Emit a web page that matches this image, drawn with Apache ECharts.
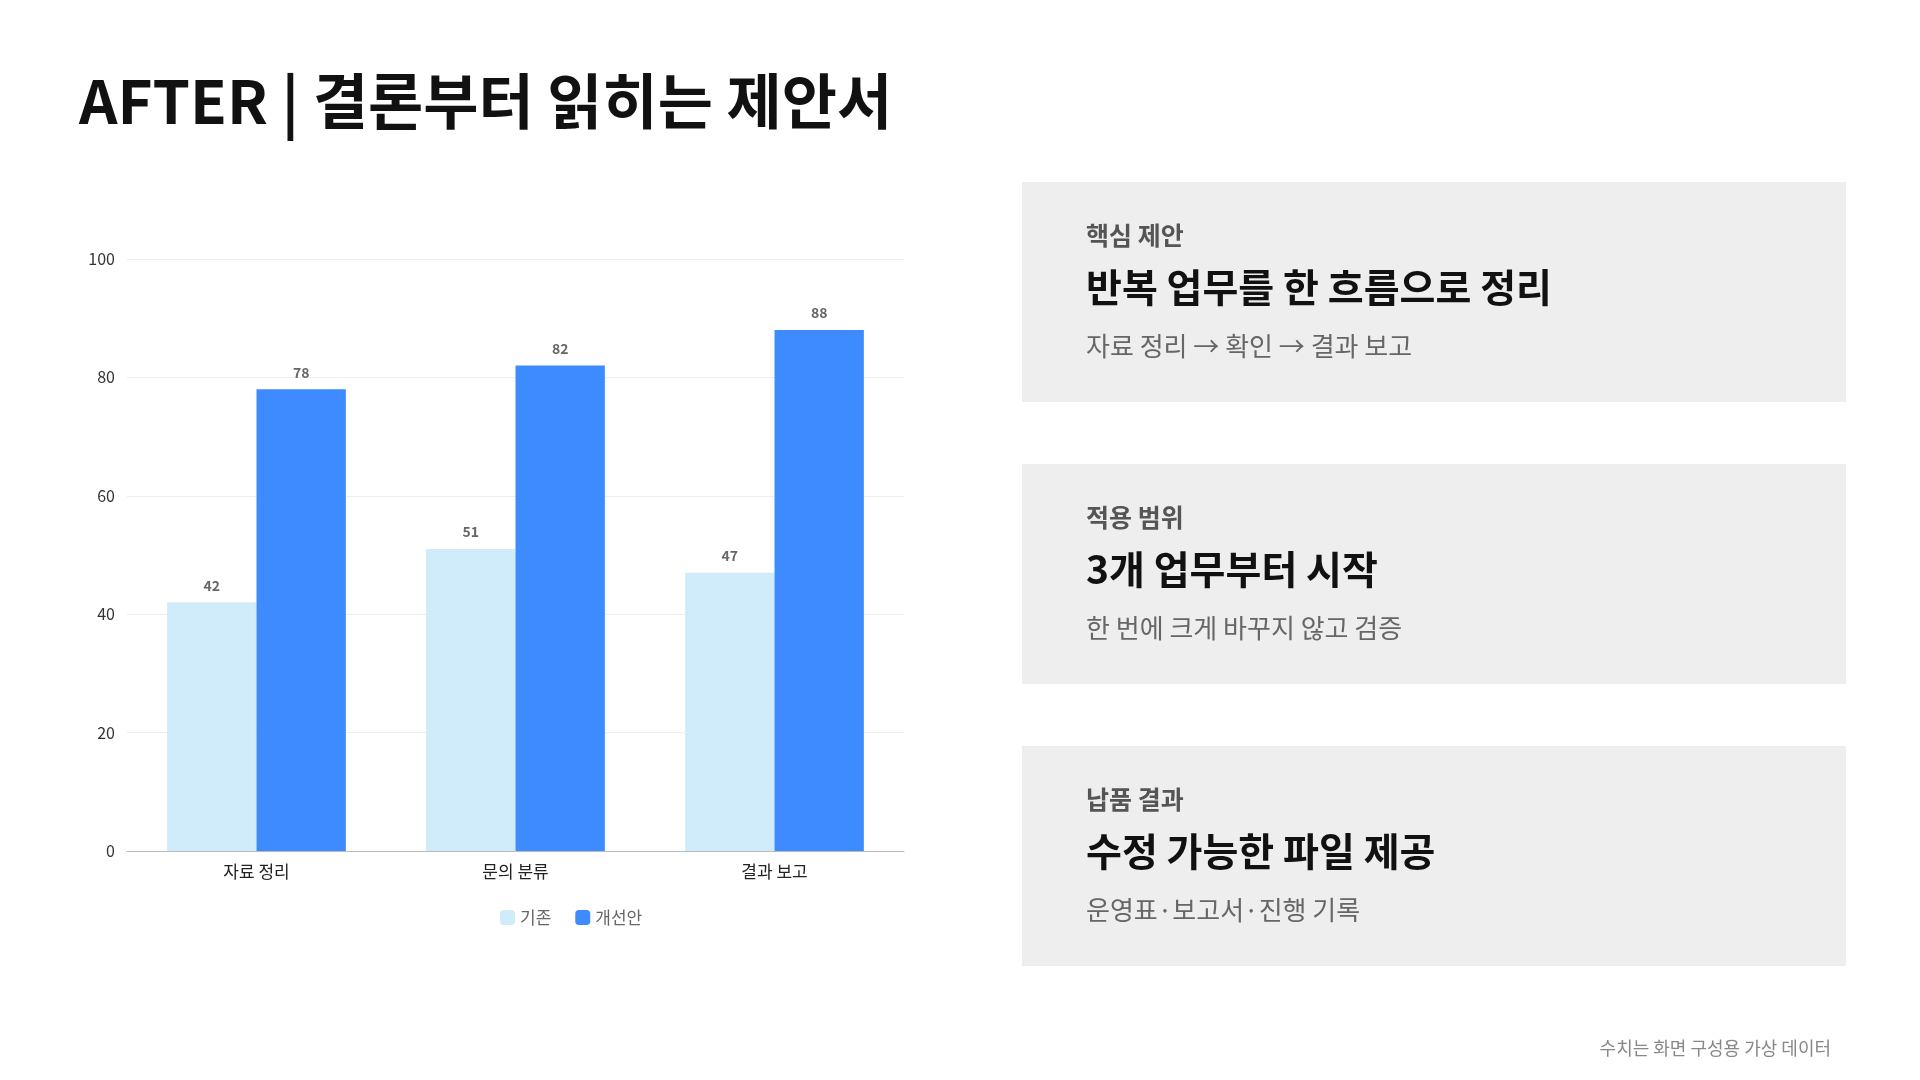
<!DOCTYPE html>
<html>
<head>
<meta charset="utf-8">
<script src="https://cdn.jsdelivr.net/npm/echarts@6/dist/echarts.min.js"></script>
<style>
  html, body { margin: 0; padding: 0; background: #fff; }
  #chart { width: 1920px; height: 1080px; }
</style>
</head>
<body>
<div id="chart"></div>
<script>
const FONT = '"Noto Sans CJK KR", "Noto Sans", sans-serif';

const categories = ['자료 정리', '문의 분류', '결과 보고'];
const baseline = [42, 51, 47];
const improved = [78, 82, 88];
const seriesNames = ['기존', '개선안'];

const cards = [
    { label: '핵심 제안', head: '반복 업무를 한 흐름으로 정리', sub: '자료 정리 → 확인 → 결과 보고' },
    { label: '적용 범위', head: '3개 업무부터 시작', sub: '한 번에 크게 바꾸지 않고 검증' },
    { label: '납품 결과', head: '수정 가능한 파일 제공', sub: '운영표·보고서·진행 기록' }
];

const cardGraphics = [];
cards.forEach((c, i) => {
    const top = 182 + i * 282;
    cardGraphics.push(
        { type: 'rect', shape: { x: 1022, y: top, width: 824, height: 220 }, style: { fill: '#eeeeee' } },
        { type: 'text', x: 1086, y: top + 53, style: { text: c.label, font: `bold 25px ${FONT}`, fill: '#555', textVerticalAlign: 'middle' } },
        { type: 'text', x: 1086, y: top + 105, style: { text: c.head, font: `bold 39px ${FONT}`, fill: '#111', textVerticalAlign: 'middle' } },
        { type: 'text', x: 1086, y: top + 164, style: { text: c.sub, font: `26px ${FONT}`, fill: '#666', textVerticalAlign: 'middle' } }
    );
});

const barLabel = {
    show: true,
    position: 'top',
    distance: 10,
    fontFamily: FONT,
    fontSize: 14,
    fontWeight: 'bold',
    color: '#666'
};

const chart = echarts.init(document.getElementById('chart'));
chart.setOption({
    backgroundColor: '#fff',
    animation: false,
    textStyle: { fontFamily: FONT },
    grid: { left: 127, right: 1016, top: 259, bottom: 229 },
    legend: {
        data: seriesNames,
        left: 495,
        top: 904,
        itemWidth: 15,
        itemHeight: 15,
        itemGap: 24,
        textStyle: { fontFamily: FONT, fontSize: 17, color: '#666' }
    },
    xAxis: {
        type: 'category',
        data: categories,
        axisTick: { show: false },
        axisLine: { lineStyle: { color: '#bbb' } },
        axisLabel: { fontFamily: FONT, fontSize: 17, color: '#222', margin: 12 }
    },
    yAxis: {
        type: 'value',
        min: 0,
        max: 100,
        interval: 20,
        axisLabel: { fontFamily: FONT, fontSize: 16, color: '#333', margin: 12 },
        splitLine: { lineStyle: { color: '#eeeeee' } }
    },
    series: [
        { name: seriesNames[0], type: 'bar', data: baseline, barGap: '0%', barCategoryGap: '31%',
          itemStyle: { color: '#d0ecfa' }, label: barLabel },
        { name: seriesNames[1], type: 'bar', data: improved,
          itemStyle: { color: '#3d8bff' }, label: barLabel }
    ],
    graphic: [
        { type: 'text', x: 79, y: 101, style: { text: 'AFTER | 결론부터 읽히는 제안서', font: `bold 60px ${FONT}`, fill: '#111', textVerticalAlign: 'middle' } },
        ...cardGraphics,
        { type: 'text', x: 1831, y: 1048, style: { text: '수치는 화면 구성용 가상 데이터', font: `18px ${FONT}`, fill: '#888', textAlign: 'right', textVerticalAlign: 'middle' } }
    ]
});
</script>
</body>
</html>
